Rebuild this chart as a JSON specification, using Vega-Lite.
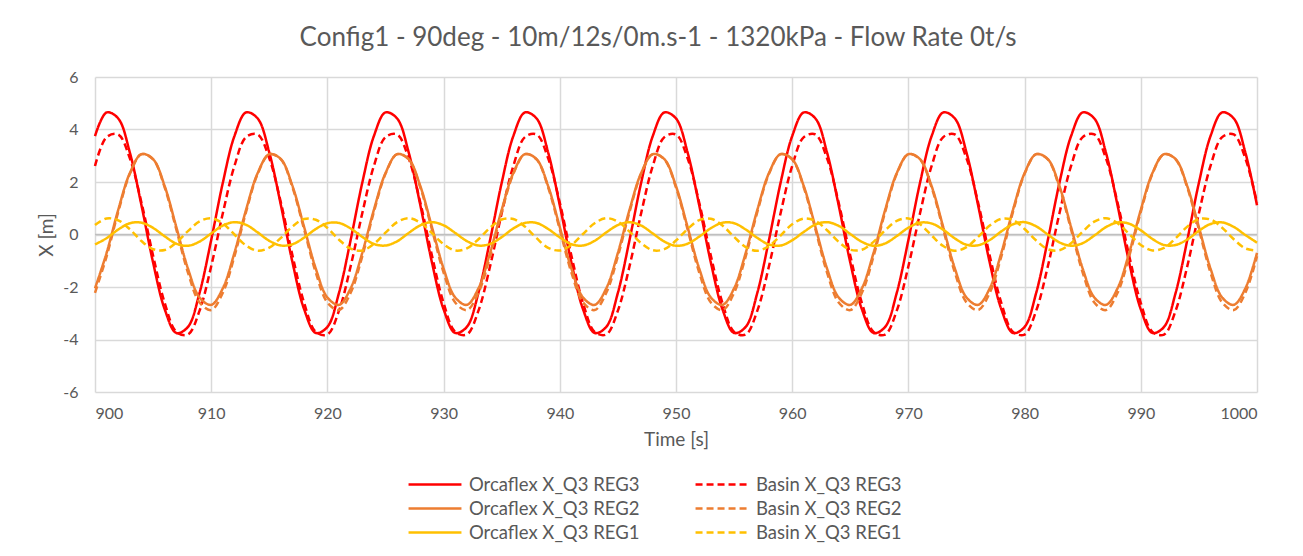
{
  "$schema": "https://vega.github.io/schema/vega-lite/v6.json",
  "width": 1162,
  "height": 315,
  "autosize": {"type": "none"},
  "padding": {"left": 95, "top": 77, "right": 46, "bottom": 164},
  "background": "white",
  "title": {"text": "Config1 - 90deg - 10m/12s/0m.s-1 - 1320kPa - Flow Rate 0t/s", "fontSize": 26, "fontWeight": "normal", "color": "#595959", "anchor": "middle", "offset": 18, "dx": -18},
  "config": {
    "font": "Lato",
    "view": {"stroke": null},
    "locale": {"number": {"decimal": ".", "thousands": ",", "grouping": [3], "currency": ["$", ""], "minus": "-"}}
  },
  "layer": [
    {
      "data": {"values": [{"y": 0}]},
      "mark": {"type": "rule", "color": "#bfbfbf", "strokeWidth": 1.5},
      "encoding": {"y": {"field": "y", "type": "quantitative", "scale": {"domain": [-6, 6]}}}
    },
    {
      "data": {"values": [
{"t":900,"a":3.75,"b":2.61,"c":-2.05,"d":-2.22,"e":-0.38,"f":0.36},
{"t":901,"a":4.65,"b":3.71,"c":-0.70,"d":-0.83,"e":-0.14,"f":0.61},
{"t":902,"a":4.42,"b":3.81,"c":0.94,"d":0.86,"e":0.19,"f":0.54},
{"t":903,"a":3.12,"b":2.90,"c":2.34,"d":2.31,"e":0.43,"f":0.20},
{"t":904,"a":1.11,"b":1.21,"c":3.06,"d":3.06,"e":0.45,"f":-0.25},
{"t":905,"a":-1.07,"b":-0.81,"c":2.87,"d":2.86,"e":0.25,"f":-0.56},
{"t":906,"a":-2.85,"b":-2.61,"c":1.84,"d":1.79,"e":-0.07,"f":-0.59},
{"t":907,"a":-3.75,"b":-3.71,"c":0.28,"d":0.19,"e":-0.35,"f":-0.31},
{"t":908,"a":-3.52,"b":-3.81,"c":-1.30,"d":-1.45,"e":-0.43,"f":0.13},
{"t":909,"a":-2.22,"b":-2.90,"c":-2.40,"d":-2.59,"e":-0.27,"f":0.50},
{"t":910,"a":-0.21,"b":-1.21,"c":-2.68,"d":-2.88,"e":0.04,"f":0.62},
{"t":911,"a":1.97,"b":0.81,"c":-2.05,"d":-2.22,"e":0.34,"f":0.42},
{"t":912,"a":3.75,"b":2.61,"c":-0.70,"d":-0.83,"e":0.47,"f":0.00},
{"t":913,"a":4.65,"b":3.71,"c":0.94,"d":0.86,"e":0.37,"f":-0.42},
{"t":914,"a":4.42,"b":3.81,"c":2.34,"d":2.31,"e":0.08,"f":-0.62},
{"t":915,"a":3.12,"b":2.90,"c":3.06,"d":3.06,"e":-0.24,"f":-0.50},
{"t":916,"a":1.11,"b":1.21,"c":2.87,"d":2.86,"e":-0.42,"f":-0.13},
{"t":917,"a":-1.07,"b":-0.81,"c":1.84,"d":1.79,"e":-0.37,"f":0.31},
{"t":918,"a":-2.85,"b":-2.61,"c":0.28,"d":0.19,"e":-0.12,"f":0.59},
{"t":919,"a":-3.75,"b":-3.71,"c":-1.30,"d":-1.45,"e":0.21,"f":0.56},
{"t":920,"a":-3.52,"b":-3.81,"c":-2.40,"d":-2.59,"e":0.43,"f":0.25},
{"t":921,"a":-2.22,"b":-2.90,"c":-2.68,"d":-2.88,"e":0.44,"f":-0.20},
{"t":922,"a":-0.21,"b":-1.21,"c":-2.05,"d":-2.22,"e":0.23,"f":-0.54},
{"t":923,"a":1.97,"b":0.81,"c":-0.70,"d":-0.83,"e":-0.09,"f":-0.61},
{"t":924,"a":3.75,"b":2.61,"c":0.94,"d":0.86,"e":-0.36,"f":-0.36},
{"t":925,"a":4.65,"b":3.71,"c":2.34,"d":2.31,"e":-0.42,"f":0.07},
{"t":926,"a":4.42,"b":3.81,"c":3.06,"d":3.06,"e":-0.26,"f":0.47},
{"t":927,"a":3.12,"b":2.90,"c":2.87,"d":2.86,"e":0.06,"f":0.62},
{"t":928,"a":1.11,"b":1.21,"c":1.84,"d":1.79,"e":0.35,"f":0.45},
{"t":929,"a":-1.07,"b":-0.81,"c":0.28,"d":0.19,"e":0.47,"f":0.05},
{"t":930,"a":-2.85,"b":-2.61,"c":-1.30,"d":-1.45,"e":0.35,"f":-0.37},
{"t":931,"a":-3.75,"b":-3.71,"c":-2.40,"d":-2.59,"e":0.06,"f":-0.61},
{"t":932,"a":-3.52,"b":-3.81,"c":-2.68,"d":-2.88,"e":-0.25,"f":-0.53},
{"t":933,"a":-2.22,"b":-2.90,"c":-2.05,"d":-2.22,"e":-0.42,"f":-0.18},
{"t":934,"a":-0.21,"b":-1.21,"c":-0.70,"d":-0.83,"e":-0.36,"f":0.26},
{"t":935,"a":1.97,"b":0.81,"c":0.94,"d":0.86,"e":-0.10,"f":0.57},
{"t":936,"a":3.75,"b":2.61,"c":2.34,"d":2.31,"e":0.23,"f":0.59},
{"t":937,"a":4.65,"b":3.71,"c":3.06,"d":3.06,"e":0.44,"f":0.30},
{"t":938,"a":4.42,"b":3.81,"c":2.87,"d":2.86,"e":0.44,"f":-0.14},
{"t":939,"a":3.12,"b":2.90,"c":1.84,"d":1.79,"e":0.21,"f":-0.51},
{"t":940,"a":1.11,"b":1.21,"c":0.28,"d":0.19,"e":-0.11,"f":-0.61},
{"t":941,"a":-1.07,"b":-0.81,"c":-1.30,"d":-1.45,"e":-0.37,"f":-0.40},
{"t":942,"a":-2.85,"b":-2.61,"c":-2.40,"d":-2.59,"e":-0.42,"f":0.02},
{"t":943,"a":-3.75,"b":-3.71,"c":-2.68,"d":-2.88,"e":-0.24,"f":0.43},
{"t":944,"a":-3.52,"b":-3.81,"c":-2.05,"d":-2.22,"e":0.08,"f":0.62},
{"t":945,"a":-2.22,"b":-2.90,"c":-0.70,"d":-0.83,"e":0.36,"f":0.49},
{"t":946,"a":-0.21,"b":-1.21,"c":0.94,"d":0.86,"e":0.47,"f":0.11},
{"t":947,"a":1.97,"b":0.81,"c":2.34,"d":2.31,"e":0.34,"f":-0.33},
{"t":948,"a":3.75,"b":2.61,"c":3.06,"d":3.06,"e":0.04,"f":-0.60},
{"t":949,"a":4.65,"b":3.71,"c":2.87,"d":2.86,"e":-0.27,"f":-0.56},
{"t":950,"a":4.42,"b":3.81,"c":1.84,"d":1.79,"e":-0.43,"f":-0.23},
{"t":951,"a":3.12,"b":2.90,"c":0.28,"d":0.19,"e":-0.35,"f":0.21},
{"t":952,"a":1.11,"b":1.21,"c":-1.30,"d":-1.45,"e":-0.08,"f":0.55},
{"t":953,"a":-1.07,"b":-0.81,"c":-2.40,"d":-2.59,"e":0.24,"f":0.60},
{"t":954,"a":-2.85,"b":-2.61,"c":-2.68,"d":-2.88,"e":0.45,"f":0.34},
{"t":955,"a":-3.75,"b":-3.71,"c":-2.05,"d":-2.22,"e":0.43,"f":-0.09},
{"t":956,"a":-3.52,"b":-3.81,"c":-0.70,"d":-0.83,"e":0.19,"f":-0.48},
{"t":957,"a":-2.22,"b":-2.90,"c":0.94,"d":0.86,"e":-0.13,"f":-0.62},
{"t":958,"a":-0.21,"b":-1.21,"c":2.34,"d":2.31,"e":-0.38,"f":-0.44},
{"t":959,"a":1.97,"b":0.81,"c":3.06,"d":3.06,"e":-0.42,"f":-0.04},
{"t":960,"a":3.75,"b":2.61,"c":2.87,"d":2.86,"e":-0.22,"f":0.39},
{"t":961,"a":4.65,"b":3.71,"c":1.84,"d":1.79,"e":0.10,"f":0.61},
{"t":962,"a":4.42,"b":3.81,"c":0.28,"d":0.19,"e":0.38,"f":0.52},
{"t":963,"a":3.12,"b":2.90,"c":-1.30,"d":-1.45,"e":0.47,"f":0.16},
{"t":964,"a":1.11,"b":1.21,"c":-2.40,"d":-2.59,"e":0.33,"f":-0.28},
{"t":965,"a":-1.07,"b":-0.81,"c":-2.68,"d":-2.88,"e":0.02,"f":-0.58},
{"t":966,"a":-2.85,"b":-2.61,"c":-2.05,"d":-2.22,"e":-0.28,"f":-0.58},
{"t":967,"a":-3.75,"b":-3.71,"c":-0.70,"d":-0.83,"e":-0.43,"f":-0.28},
{"t":968,"a":-3.52,"b":-3.81,"c":0.94,"d":0.86,"e":-0.34,"f":0.16},
{"t":969,"a":-2.22,"b":-2.90,"c":2.34,"d":2.31,"e":-0.06,"f":0.52},
{"t":970,"a":-0.21,"b":-1.21,"c":3.06,"d":3.06,"e":0.26,"f":0.61},
{"t":971,"a":1.97,"b":0.81,"c":2.87,"d":2.86,"e":0.45,"f":0.39},
{"t":972,"a":3.75,"b":2.61,"c":1.84,"d":1.79,"e":0.42,"f":-0.04},
{"t":973,"a":4.65,"b":3.71,"c":0.28,"d":0.19,"e":0.18,"f":-0.44},
{"t":974,"a":4.42,"b":3.81,"c":-1.30,"d":-1.45,"e":-0.15,"f":-0.62},
{"t":975,"a":3.12,"b":2.90,"c":-2.40,"d":-2.59,"e":-0.39,"f":-0.48},
{"t":976,"a":1.11,"b":1.21,"c":-2.68,"d":-2.88,"e":-0.41,"f":-0.09},
{"t":977,"a":-1.07,"b":-0.81,"c":-2.05,"d":-2.22,"e":-0.21,"f":0.34},
{"t":978,"a":-2.85,"b":-2.61,"c":-0.70,"d":-0.83,"e":0.12,"f":0.60},
{"t":979,"a":-3.75,"b":-3.71,"c":0.94,"d":0.86,"e":0.39,"f":0.55},
{"t":980,"a":-3.52,"b":-3.81,"c":2.34,"d":2.31,"e":0.47,"f":0.21},
{"t":981,"a":-2.22,"b":-2.90,"c":3.06,"d":3.06,"e":0.31,"f":-0.23},
{"t":982,"a":-0.21,"b":-1.21,"c":2.87,"d":2.86,"e":0.00,"f":-0.56},
{"t":983,"a":1.97,"b":0.81,"c":1.84,"d":1.79,"e":-0.30,"f":-0.60},
{"t":984,"a":3.75,"b":2.61,"c":0.28,"d":0.19,"e":-0.43,"f":-0.33},
{"t":985,"a":4.65,"b":3.71,"c":-1.30,"d":-1.45,"e":-0.33,"f":0.11},
{"t":986,"a":4.42,"b":3.81,"c":-2.40,"d":-2.59,"e":-0.04,"f":0.49},
{"t":987,"a":3.12,"b":2.90,"c":-2.68,"d":-2.88,"e":0.28,"f":0.62},
{"t":988,"a":1.11,"b":1.21,"c":-2.05,"d":-2.22,"e":0.46,"f":0.43},
{"t":989,"a":-1.07,"b":-0.81,"c":-0.70,"d":-0.83,"e":0.41,"f":0.02},
{"t":990,"a":-2.85,"b":-2.61,"c":0.94,"d":0.86,"e":0.16,"f":-0.40},
{"t":991,"a":-3.75,"b":-3.71,"c":2.34,"d":2.31,"e":-0.17,"f":-0.61},
{"t":992,"a":-3.52,"b":-3.81,"c":3.06,"d":3.06,"e":-0.40,"f":-0.51},
{"t":993,"a":-2.22,"b":-2.90,"c":2.87,"d":2.86,"e":-0.40,"f":-0.14},
{"t":994,"a":-0.21,"b":-1.21,"c":1.84,"d":1.79,"e":-0.19,"f":0.30},
{"t":995,"a":1.97,"b":0.81,"c":0.28,"d":0.19,"e":0.14,"f":0.59},
{"t":996,"a":3.75,"b":2.61,"c":-1.30,"d":-1.45,"e":0.40,"f":0.57},
{"t":997,"a":4.65,"b":3.71,"c":-2.40,"d":-2.59,"e":0.46,"f":0.26},
{"t":998,"a":4.42,"b":3.81,"c":-2.68,"d":-2.88,"e":0.29,"f":-0.18},
{"t":999,"a":3.12,"b":2.90,"c":-2.05,"d":-2.22,"e":-0.02,"f":-0.53},
{"t":1000,"a":1.11,"b":1.21,"c":-0.70,"d":-0.83,"e":-0.31,"f":-0.61}
      ]},
      "transform": [
        {"fold": ["a", "b", "c", "d", "e", "f"], "as": ["key", "value"]},
        {"lookup": "key", "from": {"data": {"values": [
          {"k": "a", "series": "Orcaflex X_Q3 REG3"},
          {"k": "b", "series": "Basin X_Q3 REG3"},
          {"k": "c", "series": "Orcaflex X_Q3 REG2"},
          {"k": "d", "series": "Basin X_Q3 REG2"},
          {"k": "e", "series": "Orcaflex X_Q3 REG1"},
          {"k": "f", "series": "Basin X_Q3 REG1"}
        ]}, "key": "k", "fields": ["series"]}}
      ],
      "mark": {"type": "line", "interpolate": "catmull-rom", "strokeWidth": 2.5},
      "encoding": {
        "x": {"field": "t", "type": "quantitative",
          "scale": {"domain": [900, 1000], "nice": false},
          "axis": {"values": [900, 910, 920, 930, 940, 950, 960, 970, 980, 990, 1000], "format": "d", "title": "Time [s]",
            "grid": true, "gridColor": "#d9d9d9", "gridWidth": 1.5, "domain": false, "ticks": false,
            "labelPadding": 13, "labelFontSize": 16, "labelColor": "#595959", "titleFontSize": 19, "titleFontWeight": "normal", "titleColor": "#595959", "titlePadding": 9}},
        "y": {"field": "value", "type": "quantitative",
          "scale": {"domain": [-6, 6], "nice": false},
          "axis": {"values": [-6, -4, -2, 0, 2, 4, 6], "format": "d", "title": "X [m]",
            "grid": true, "gridColor": "#d9d9d9", "gridWidth": 1.5, "domain": false, "ticks": false,
            "labelPadding": 17, "labelFontSize": 16, "labelColor": "#595959", "titleFontSize": 19, "titleFontWeight": "normal", "titleColor": "#595959", "titlePadding": 6}},
        "color": {"field": "series", "type": "nominal",
          "scale": {"domain": ["Orcaflex X_Q3 REG3", "Orcaflex X_Q3 REG2", "Orcaflex X_Q3 REG1", "Basin X_Q3 REG3", "Basin X_Q3 REG2", "Basin X_Q3 REG1"],
            "range": ["#ff0000", "#ed7d31", "#ffc000", "#ff0000", "#ed7d31", "#ffc000"]},
          "legend": {"title": null, "orient": "none", "legendX": 312, "legendY": 398, "columns": 2, "columnPadding": 54, "rowPadding": 5, "clipHeight": 19, "labelLimit": 400,
            "symbolType": "stroke", "symbolSize": 2800, "symbolStrokeWidth": 2.5, "labelFontSize": 18.5, "labelColor": "#595959", "labelOffset": 6}},
        "strokeDash": {"field": "series", "type": "nominal",
          "scale": {"domain": ["Orcaflex X_Q3 REG3", "Orcaflex X_Q3 REG2", "Orcaflex X_Q3 REG1", "Basin X_Q3 REG3", "Basin X_Q3 REG2", "Basin X_Q3 REG1"],
            "range": [[1, 0], [1, 0], [1, 0], [7, 4], [7, 4], [7, 4]]},
          "legend": {"title": null, "orient": "none", "legendX": 312, "legendY": 398, "columns": 2, "columnPadding": 54, "rowPadding": 5, "clipHeight": 19, "labelLimit": 400,
            "symbolType": "stroke", "symbolSize": 2800, "symbolStrokeWidth": 2.5, "labelFontSize": 18.5, "labelColor": "#595959", "labelOffset": 6}}
      }
    }
  ]
}
